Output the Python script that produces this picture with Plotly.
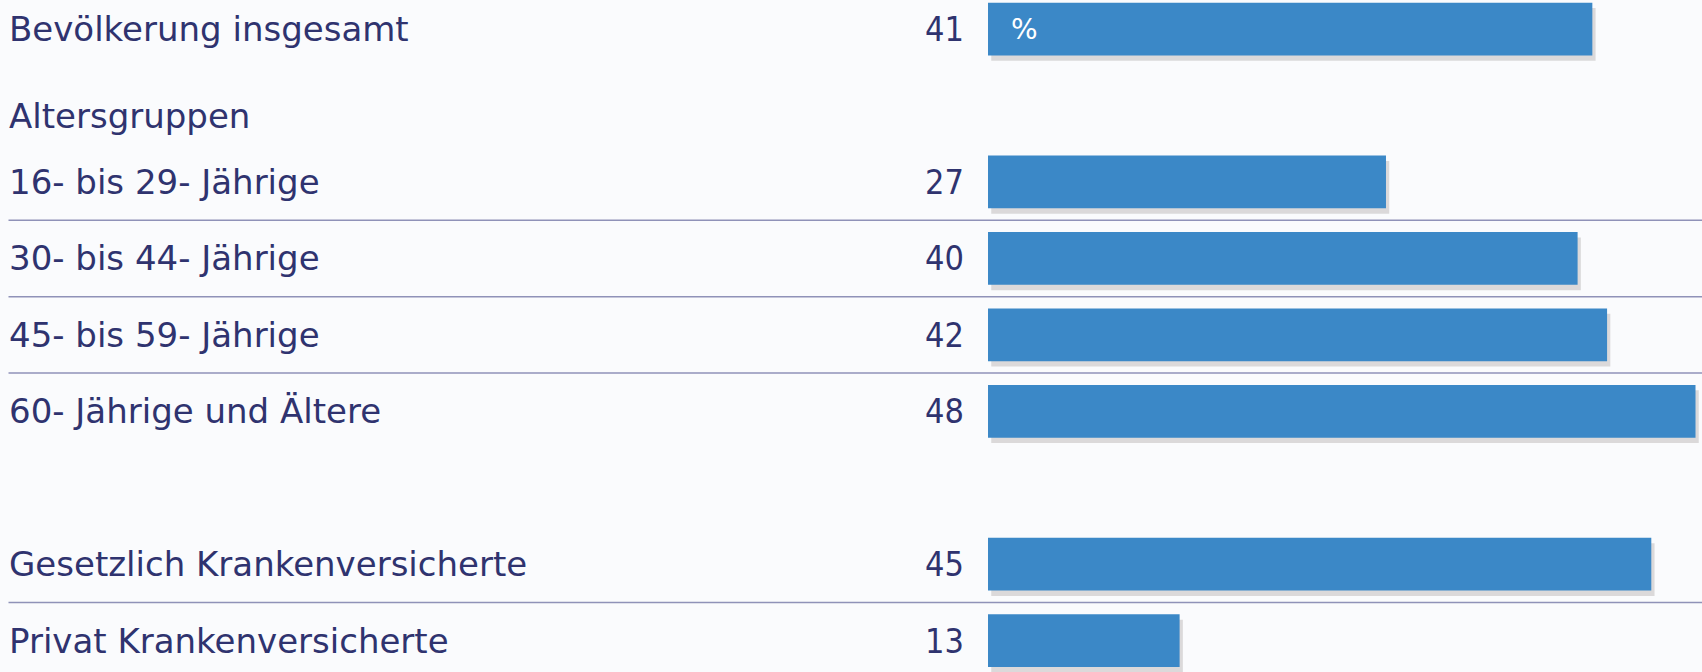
import plotly.graph_objects as go

rows = ["Bevölkerung insgesamt", "Altersgruppen", "16- bis 29- Jährige",
        "30- bis 44- Jährige", "45- bis 59- Jährige", "60- Jährige und Ältere",
        "", "Gesetzlich Krankenversicherte", "Privat Krankenversicherte"]
values = [41, None, 27, 40, 42, 48, None, 45, 13]
separator_after = [2, 3, 4, 7]

BAR = "#3b88c7"
TXT = "#2f336f"
BG = "#fafbfd"

ys = list(range(len(rows)))
bx = [v for v in values if v is not None]
by = [i for i, v in zip(ys, values) if v is not None]

W = 0.69
fig = go.Figure()
# soft shadow
fig.add_trace(go.Bar(x=bx, y=by, orientation="h", base=0.22, width=W,
                     offset=-W / 2 + 0.07,
                     marker=dict(color="rgba(80,65,60,0.18)", line=dict(width=0)),
                     hoverinfo="skip", showlegend=False))
fig.add_trace(go.Bar(x=bx, y=by, orientation="h", width=W, offset=-W / 2,
                     marker=dict(color=BAR, line=dict(width=0)),
                     showlegend=False))

for i, label in enumerate(rows):
    if not label:
        continue
    fig.add_annotation(x=0.004, xref="paper", y=i, yref="y", text=label,
                       xanchor="left", yanchor="middle", showarrow=False,
                       yshift=-10 if values[i] is None else 0,
                       font=dict(family="DejaVu Sans", size=34, color=TXT))
for i, v in zip(ys, values):
    if v is None:
        continue
    fig.add_annotation(x=-1.5, xref="x", y=i, yref="y", text=str(v),
                       xanchor="right", yanchor="middle", showarrow=False,
                       font=dict(family="Liberation Sans Narrow, DejaVu Sans Condensed, Roboto",
                                 size=34, color=TXT))

fig.add_annotation(x=1.4, xref="x", y=0, yref="y", text="%", xanchor="left",
                   yanchor="middle", showarrow=False,
                   font=dict(family="DejaVu Sans", size=28, color="white"))

for r in separator_after:
    fig.add_shape(type="line", xref="paper", x0=0.005, x1=1, yref="y",
                  y0=r + 0.5, y1=r + 0.5, line=dict(color="#8f92b8", width=1.5))

fig.update_layout(
    width=1702, height=672, margin=dict(l=0, r=0, t=0, b=0),
    paper_bgcolor=BG, plot_bgcolor=BG, barmode="overlay",
    xaxis=dict(range=[-67.03, 48.44], visible=False),
    yaxis=dict(range=[8.41, -0.38], visible=False),
)
fig.write_html("out.html", config={"displayModeBar": False},
               post_script="document.body.style.margin='0';document.body.style.overflow='hidden';")
